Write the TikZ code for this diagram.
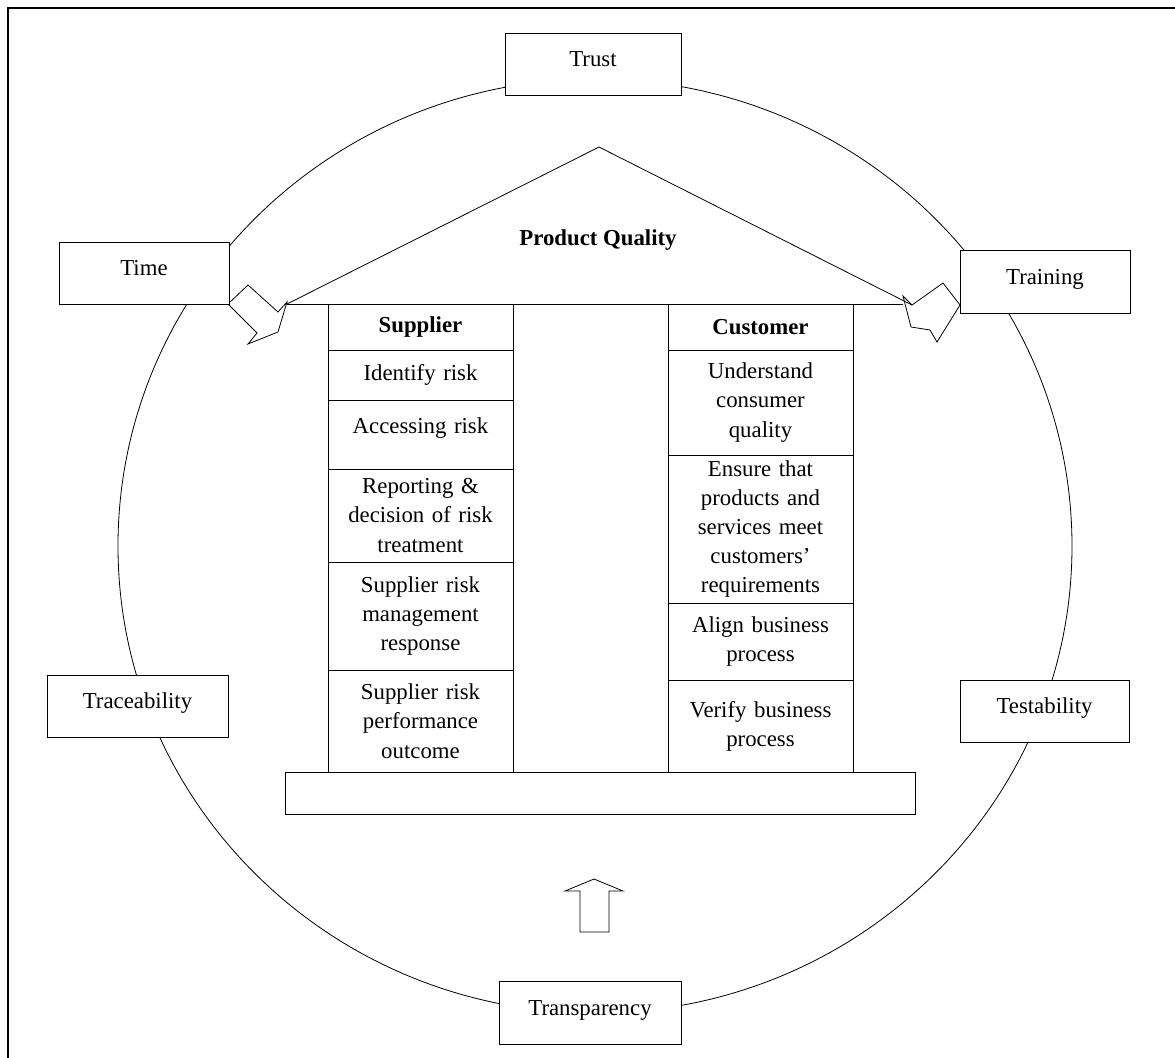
\documentclass[tikz,border=0pt]{standalone}
\usepackage{fontspec}
\setmainfont{Liberation Serif}
\usetikzlibrary{positioning}
\tikzset{
    line width=1.1pt,
    txt/.style={font=\fontsize{11.4}{14.6}\selectfont},
    cell/.style={draw, txt, align=center, text width=88pt, minimum width=92.5pt,
        inner sep=0pt, outer sep=0pt},
    tag/.style={draw, txt, fill=white, align=center, text height=7.5pt, text depth=5pt,
        inner sep=0pt, outer sep=0pt}
}

\begin{document}
\begin{tikzpicture}[x=0.5pt, y=-0.5pt]
    \useasboundingbox (0,0) rectangle (1175,1057);
    % frame and ring
    \draw[line width=1.4pt] (8,8) rectangle (1200,1080);
    \draw (595,546) ellipse [x radius=238.5pt, y radius=233.5pt];

    % roof
    \draw (287,304) -- (599,147) -- (912,305);
    \draw (287,304) -- (903,304);
    \node[txt, font=\fontsize{11.4}{14.6}\selectfont\bfseries] (pq) at (598,240) {Product Quality};

    % supplier pillar
    \node[cell, minimum height=23pt, font=\fontsize{11.4}{14.6}\selectfont\bfseries] (sup) at (420.5,327) {Supplier};
    \node[cell, below=0pt of sup, minimum height=25pt] (s1) {Identify risk};
    \node[cell, below=0pt of s1, minimum height=34.5pt, text depth=9pt] (s2) {Accessing risk};
    \node[cell, below=0pt of s2, minimum height=46.5pt] (s3) {Reporting \&\\decision of risk\\treatment};
    \node[cell, below=0pt of s3, minimum height=54pt] (s4) {Supplier risk\\management\\response};
    \node[cell, below=0pt of s4, minimum height=51pt] (s5) {Supplier risk\\performance\\outcome};

    % customer pillar
    \node[cell, minimum height=23pt, font=\fontsize{11.4}{14.6}\selectfont\bfseries] (cus) at (760.5,327) {Customer};
    \node[cell, below=0pt of cus, minimum height=52.5pt] (c1) {Understand\\consumer\\quality};
    \node[cell, below=0pt of c1, minimum height=74pt] (c2) {Ensure that\\products and\\services meet\\customers’\\requirements};
    \node[cell, below=0pt of c2, minimum height=38.5pt] (c3) {Align business\\process};
    \node[cell, below=0pt of c3, minimum height=46pt] (c4) {Verify business\\process};

    % base
    \node[draw, minimum width=315pt, minimum height=21pt, inner sep=0pt, outer sep=0pt] (base) at (600,793) {};

    % block arrows
    \draw (228,304) -- (248,285) -- (278,312) -- (287,302) -- (278,332) -- (248,344) -- (257,333) -- cycle;
    \draw (912,305) -- (943,283) -- (960,305) -- (937,342) -- (930,330) -- (911,327) -- (903,296) -- cycle;
    \draw (580,932) -- (580,891) -- (565,891) -- (594,879) -- (623,891) -- (609,891) -- (609,932) -- cycle;

    % values on the ring
    \node[tag, minimum width=88pt, minimum height=31pt] (trust) at (593,64) {Trust};
    \node[tag, minimum width=85pt, minimum height=31pt] (time) at (144,273) {Time};
    \node[tag, minimum width=85pt, minimum height=31.5pt] (train) at (1045,281.5) {Training};
    \node[tag, minimum width=90.5pt, minimum height=31pt] (trace) at (137.5,706) {Traceability};
    \node[tag, minimum width=84.5pt, minimum height=31pt] (test) at (1044.5,711) {Testability};
    \node[tag, minimum width=91pt, minimum height=31.5pt] (transp) at (590,1012.5) {Transparency};
\end{tikzpicture}
\end{document}
